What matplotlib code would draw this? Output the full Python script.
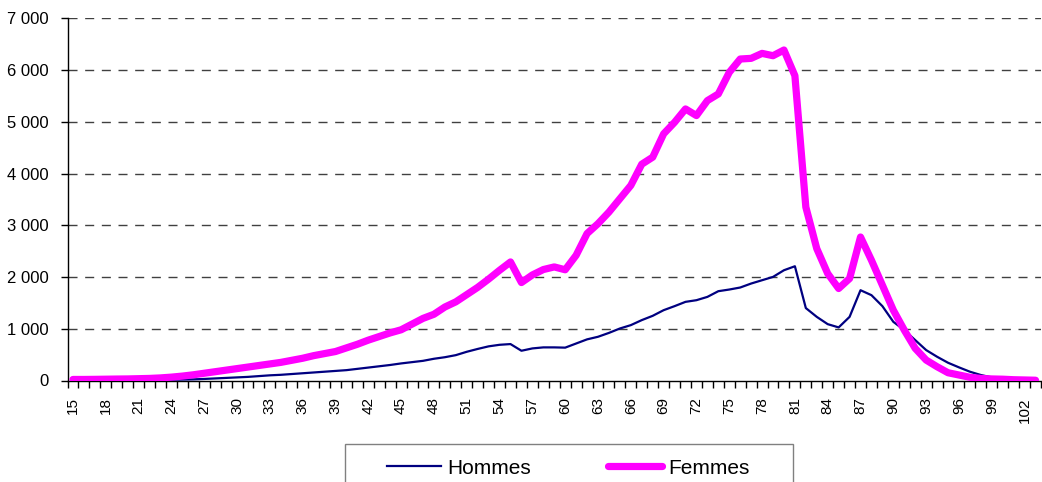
import matplotlib
matplotlib.use("Agg")
import matplotlib.pyplot as plt
from matplotlib.patches import Rectangle
from matplotlib.ticker import FuncFormatter, FixedLocator
import numpy as np

ages = list(range(15, 104))

hommes = [2, 3, 3, 4, 5, 6, 8, 10, 12, 15, 18, 22,            # 15-26
          30, 40, 50, 60, 70, 85, 100, 110, 125, 140, 155, 170, 185,  # 27-39
          200, 225, 250, 275, 300, 330, 355, 380, 420, 450,   # 40-49
          490, 555, 610, 660, 690, 704, 575, 620, 640, 640,   # 50-59
          635, 715, 795, 845, 920, 1005, 1070, 1167, 1250, 1359,  # 60-69
          1437, 1520, 1552, 1616, 1726, 1758, 1797, 1874, 1938, 2002,  # 70-79
          2131, 2208, 1400, 1230, 1089, 1026, 1230, 1745, 1649, 1437,  # 80-89
          1134, 974, 781, 588, 459, 343, 254, 170, 106, 60,   # 90-99
          40, 25, 15, 8]                                       # 100-103

femmes = [20, 20, 22, 25, 28, 30, 35, 40, 50, 65, 85, 110,    # 15-26
          140, 170, 200, 230, 260, 290, 320, 350, 390, 430, 480, 520, 560,  # 27-39
          630, 700, 780, 850, 920, 980, 1090, 1200, 1280, 1420,  # 40-49
          1520, 1660, 1800, 1960, 2130, 2291, 1893, 2040, 2144, 2195,  # 50-59
          2140, 2420, 2840, 3031, 3255, 3513, 3770, 4180, 4316, 4767,  # 60-69
          4990, 5248, 5120, 5409, 5538, 5955, 6213, 6226, 6322, 6277,  # 70-79
          6387, 5891, 3352, 2549, 2067, 1778, 1971, 2773, 2324, 1842,  # 80-89
          1359, 974, 621, 395, 266, 150, 106, 62, 40, 30,     # 90-99
          25, 15, 10, 5]                                       # 100-103

yticks = [0, 1000, 2000, 3000, 4000, 5000, 6000, 7000]

plt.rcParams['font.family'] = ['Liberation Sans', 'DejaVu Sans']

W, H = 1042, 482
fig = plt.figure(figsize=(W / 100, H / 100), dpi=100)
left, right = 67.5 / W, 1041 / W
bottom, top = 1 - 380.5 / H, 1 - 18.3 / H
ax = fig.add_axes([left, bottom, right - left, top - bottom])

x = np.arange(len(ages))
ax.plot(x, hommes, color='#000080', lw=1.6, solid_joinstyle='round', label='Hommes', zorder=3)
ax.plot(x, femmes, color='#FF00FF', lw=5.2, solid_joinstyle='round',
        solid_capstyle='round', label='Femmes', zorder=4)

ax.set_xlim(-0.5, len(ages) - 0.5)
ax.set_ylim(0, 7000)

for s in ['top', 'right']:
    ax.spines[s].set_visible(False)
ax.spines['left'].set_linewidth(1.0)
ax.spines['bottom'].set_linewidth(1.0)

ax.set_yticks(yticks)
ax.yaxis.set_major_formatter(FuncFormatter(lambda v, p: f"{int(v):,}".replace(",", " ")))
ax.tick_params(axis='y', length=5, width=1, labelsize=12, pad=8.5, colors='black')
for yv in yticks[1:]:
    ax.axhline(yv, color='#404040', lw=1.0, ls=(0, (6.5, 5.5)), zorder=1)

lab_idx = [i for i, a in enumerate(ages) if (a - 15) % 3 == 0]
ax.set_xticks(lab_idx)
ax.set_xticklabels([str(ages[i]) for i in lab_idx], rotation=90, fontsize=11)
ax.tick_params(axis='x', which='major', length=0, pad=12)
ax.xaxis.set_minor_locator(FixedLocator(np.arange(-0.5, len(ages), 1.0)))
ax.tick_params(axis='x', which='minor', length=5, width=1)

# legend frame
fig.patches.append(Rectangle((345 / W, -0.05), (793 - 345) / W, 0.05 + 1 - 444 / H,
                             transform=fig.transFigure, fill=False,
                             edgecolor='#808080', lw=1.0))
leg = fig.legend(loc='center left', bbox_to_anchor=(387 / W, 1 - 468 / H),
                 ncol=2, frameon=False, fontsize=15, handlelength=2.6,
                 handletextpad=0.3, columnspacing=3.7, borderpad=0, borderaxespad=0)

fig.savefig('out.png', dpi=100)
